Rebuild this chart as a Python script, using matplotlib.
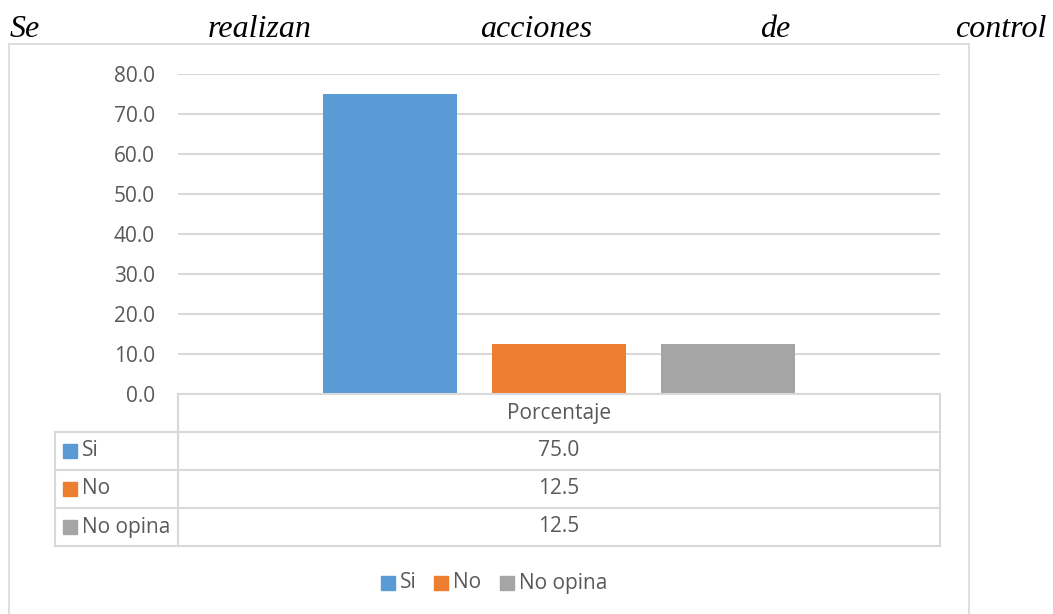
import matplotlib
matplotlib.use("Agg")
import matplotlib.pyplot as plt
from matplotlib.patches import Rectangle
from matplotlib.lines import Line2D

# Data
categories = ["Si", "No", "No opina"]
porcentaje = [75.0, 12.5, 12.5]
colors = ["#5B9BD5", "#ED7D31", "#A5A5A5"]
yticks = [0, 10, 20, 30, 40, 50, 60, 70, 80]
title_words = ["Se", "realizan", "acciones", "de", "control"]
column_label = "Porcentaje"

W, H = 1053, 614
TEXT = "#595959"
GRID = "#D9D9D9"
FONT = "Open Sans"

fig = plt.figure(figsize=(W / 100, H / 100), dpi=100)
fig.patch.set_facecolor("white")


def fx(x):
    return x / W


def fy(y):
    return 1 - y / H


def hline(x0, x1, y, lw=1.5, color=GRID):
    fig.add_artist(Line2D([fx(x0), fx(x1)], [fy(y), fy(y)], color=color, lw=lw,
                          transform=fig.transFigure))


def vline(x, y0, y1, lw=1.5, color=GRID):
    fig.add_artist(Line2D([fx(x), fx(x)], [fy(y0), fy(y1)], color=color, lw=lw,
                          transform=fig.transFigure))


# Justified italic heading
title_x = [10, 208, 480, 760, 1046]
for i, (word, x) in enumerate(zip(title_words, title_x)):
    fig.text(fx(x), fy(37), word, ha="right" if i == len(title_words) - 1 else "left",
             va="baseline", fontsize=23, fontstyle="italic",
             family="Liberation Serif", color="black")

# Chart frame
fig.add_artist(Rectangle((fx(9), fy(620)), fx(969) - fx(9), fy(44) - fy(620),
                         fill=False, edgecolor=GRID, lw=1.2,
                         transform=fig.transFigure))

# Plot area
left, right, top, bottom = 178, 940, 74, 394
ax = fig.add_axes([fx(left), fy(bottom), fx(right) - fx(left), fy(top) - fy(bottom)])
x = list(range(len(categories)))
ax.bar(x, porcentaje, width=0.793, color=colors, zorder=3)
ax.set_xlim(-1.254, 3.254)
ax.set_ylim(0, 80)
ax.set_yticks(yticks)
ax.set_yticklabels([f"{v:.1f}" for v in yticks], fontsize=15, family=FONT, color=TEXT)
ax.tick_params(axis="y", length=0, pad=16.5)
ax.set_xticks([])
ax.grid(axis="y", color=GRID, lw=1.5, zorder=0)
for s in ax.spines.values():
    s.set_visible(False)
ax.set_facecolor("none")

# Data table below the plot
row_h = 38
t_top = 394
t_left = 55
hline(left, right, t_top)
for k in range(1, len(categories) + 2):
    hline(t_left, right, t_top + k * row_h)
vline(t_left, t_top + row_h, t_top + row_h * (len(categories) + 1))
vline(left, t_top, t_top + row_h * (len(categories) + 1))
vline(right, t_top, t_top + row_h * (len(categories) + 1))

cx = (left + right) / 2
fig.text(fx(cx), fy(t_top + row_h / 2), column_label, ha="center", va="center",
         fontsize=15, family=FONT, color=TEXT)
for i, (cat, val, col) in enumerate(zip(categories, porcentaje, colors)):
    yc = t_top + row_h * (i + 1.5)
    fig.add_artist(Rectangle((fx(63), fy(yc + 7)), fx(14), 14 / H, color=col,
                             transform=fig.transFigure))
    fig.text(fx(82), fy(yc), cat, ha="left", va="center", fontsize=15,
             family=FONT, color=TEXT)
    fig.text(fx(cx), fy(yc), f"{val:.1f}", ha="center", va="center",
             fontsize=15, family=FONT, color=TEXT)

# Legend
leg_x = [381, 434, 500]
leg_y = 583
for cat, col, lx in zip(categories, colors, leg_x):
    fig.add_artist(Rectangle((fx(lx), fy(leg_y + 7)), fx(14), 14 / H, color=col,
                             transform=fig.transFigure))
    fig.text(fx(lx + 19), fy(leg_y), cat, ha="left", va="center", fontsize=15,
             family=FONT, color=TEXT)

fig.savefig("out.png", dpi=100)
